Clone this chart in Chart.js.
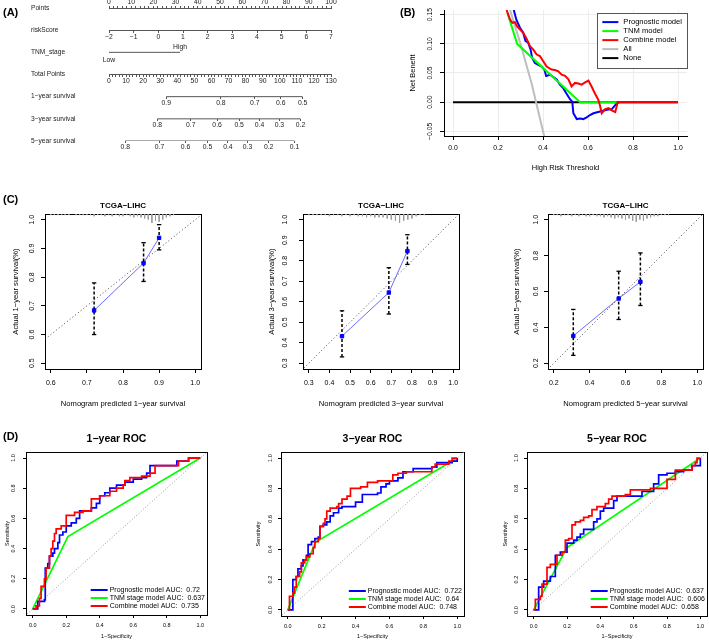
<!DOCTYPE html>
<html>
<head>
<meta charset="utf-8">
<title>Nomogram, decision curve, calibration and ROC</title>
<script src="https://cdn.jsdelivr.net/npm/chart.js@4.4.1/dist/chart.umd.min.js"></script>
<style>
  body { margin: 0; background: #fff; font-family: "Liberation Sans", Arial, sans-serif; }
  #page { position: relative; width: 709px; height: 640px; overflow: hidden; }
  #page canvas { position: absolute; }
  .tag { position: absolute; font-size: 11px; font-weight: bold; line-height: 12px; }
</style>
</head>
<body>
<div id="page">
  <canvas id="nomo" width="355" height="160" style="left:0;top:0"></canvas>
  <canvas id="dca" width="349" height="185" style="left:360px;top:0"></canvas>
  <canvas id="cal1" width="230" height="212" style="left:0;top:200px"></canvas>
  <canvas id="cal3" width="220" height="212" style="left:250px;top:200px"></canvas>
  <canvas id="cal5" width="229" height="212" style="left:480px;top:200px"></canvas>
  <canvas id="roc1" width="232" height="215" style="left:0;top:425px"></canvas>
  <canvas id="roc3" width="236" height="215" style="left:238px;top:425px"></canvas>
  <canvas id="roc5" width="231" height="215" style="left:478px;top:425px"></canvas>
  <div class="tag" style="left:3px;top:6px">(A)</div>
  <div class="tag" style="left:400px;top:6px">(B)</div>
  <div class="tag" style="left:3px;top:193px">(C)</div>
  <div class="tag" style="left:3px;top:430px">(D)</div>
</div>
<script>
// ---------- (A) nomogram ----------
const nomoRows = ['Points', 'riskScore', 'TNM_stage', 'Total Points', '1-year survival', '3-year survival', '5-year survival'];
const pointsTicks = [0, 10, 20, 30, 40, 50, 60, 70, 80, 90, 100];
const riskScoreTicks = [-2, -1, 0, 1, 2, 3, 4, 5, 6, 7];
const tnmLevels = ['Low', 'High'];
const tnmPoints = [0, 32];
const totalTicks = [0, 10, 20, 30, 40, 50, 60, 70, 80, 90, 100, 110, 120, 130];
const surv1Labels = ['0.9', '0.8', '0.7', '0.6', '0.5'];
const surv1Points = [33.5, 65.5, 85.4, 100.6, 113.4];
const surv3Labels = ['0.8', '0.7', '0.6', '0.5', '0.4', '0.3', '0.2'];
const surv3Points = [28.3, 47.9, 63.3, 76.2, 88.1, 99.8, 112.1];
const surv5Labels = ['0.8', '0.7', '0.6', '0.5', '0.4', '0.3', '0.2', '0.1'];
const surv5Points = [9.5, 29.6, 44.8, 57.7, 69.6, 81.1, 93.5, 108.6];

// ---------- (B) decision curves ----------
const dcaThresholdTicks = [0, 0.2, 0.4, 0.6, 0.8, 1.0];
const dcaBenefitTicks = [-0.05, 0, 0.05, 0.10, 0.15];
const dcaPrognostic = [[0.270, 0.158], [0.282, 0.141], [0.297, 0.128], [0.312, 0.119], [0.322, 0.105], [0.334, 0.102],
  [0.345, 0.090], [0.352, 0.076], [0.364, 0.067], [0.379, 0.064], [0.394, 0.061], [0.406, 0.056], [0.414, 0.045],
  [0.431, 0.047], [0.446, 0.043], [0.461, 0.039], [0.475, 0.030], [0.490, 0.024], [0.502, 0.016], [0.520, 0.005],
  [0.530, 0.001], [0.535, -0.019], [0.550, -0.029], [0.565, -0.028], [0.579, -0.029], [0.594, -0.026], [0.609, -0.022],
  [0.624, -0.019], [0.654, -0.016], [0.684, -0.013], [0.706, -0.012], [0.721, -0.005], [0.728, -0.002]];
const dcaTNM = [[0.242, 0.153], [0.285, 0.100], [0.565, 0], [0.728, 0]];
const dcaCombine = [[0.238, 0.158], [0.253, 0.142], [0.264, 0.136], [0.275, 0.137], [0.285, 0.130], [0.297, 0.125],
  [0.312, 0.119], [0.327, 0.109], [0.342, 0.096], [0.357, 0.090], [0.371, 0.082], [0.386, 0.079], [0.401, 0.070],
  [0.416, 0.061], [0.438, 0.056], [0.453, 0.055], [0.468, 0.053], [0.483, 0.047], [0.498, 0.045], [0.513, 0.039],
  [0.527, 0.027], [0.542, 0.033], [0.557, 0.032], [0.572, 0.030], [0.587, 0.034], [0.602, 0.037], [0.617, 0.026],
  [0.632, 0.014], [0.646, 0.004], [0.654, -0.007], [0.661, -0.019], [0.676, -0.012], [0.691, -0.010], [0.706, -0.014],
  [0.721, -0.017], [0.731, -0.002], [0.743, 0], [1.0, 0]];
const dcaAll = [[0.24, 0.175], [0.30, 0.100], [0.35, 0.031], [0.40, -0.050], [0.42, -0.082]];
const dcaNone = [[0, 0], [1, 0]];

// ---------- (C) calibration ----------
const cal1Pred = [0.720, 0.857, 0.900];
const cal1Obs = [0.684, 0.849, 0.937];
const cal1Lo = [0.600, 0.785, 0.895];
const cal1Hi = [0.780, 0.920, 0.983];
const cal1Rug = [1, 1, 1, 1, 1, 1, 0, 1, 1, 1, 1, 1, 2, 1, 1, 2, 1, 2, 1, 2, 2, 1, 2, 3, 2, 3, 4, 5, 8, 6, 7, 5, 3, 2, 1];
const cal3Pred = [0.461, 0.688, 0.778];
const cal3Obs = [0.432, 0.645, 0.847];
const cal3Lo = [0.331, 0.540, 0.782];
const cal3Hi = [0.556, 0.766, 0.927];
const cal3Rug = [1, 1, 1, 1, 1, 2, 1, 1, 2, 1, 2, 1, 2, 2, 3, 2, 3, 3, 3, 4, 5, 6, 8, 6, 5, 4, 2, 1, 1];
const cal5Pred = [0.309, 0.562, 0.683];
const cal5Obs = [0.352, 0.561, 0.654];
const cal5Lo = [0.244, 0.444, 0.522];
const cal5Hi = [0.500, 0.713, 0.815];
const cal5Rug = [1, 1, 2, 1, 1, 2, 1, 2, 1, 2, 2, 1, 2, 2, 3, 2, 3, 4, 3, 4, 5, 4, 6, 7, 5, 6, 4, 3, 2, 2, 1, 1, 1];

// ---------- (D) ROC ----------
const rocTicks = [0, 0.2, 0.4, 0.6, 0.8, 1.0];
const rocNames = ['Prognostic model', 'TNM stage model', 'Combine model'];
const auc1 = [0.72, 0.637, 0.735];
const auc3 = [0.722, 0.64, 0.748];
const auc5 = [0.637, 0.606, 0.658];
const roc1Prog = [[0, 0], [0.03, 0], [0.03, 0.05], [0.07, 0.06], [0.075, 0.27], [0.09, 0.30], [0.10, 0.35], [0.12, 0.37],
  [0.13, 0.40], [0.15, 0.44], [0.16, 0.49], [0.18, 0.51], [0.20, 0.55], [0.23, 0.57], [0.26, 0.60], [0.28, 0.65],
  [0.32, 0.65], [0.35, 0.67], [0.38, 0.70], [0.40, 0.75], [0.43, 0.77], [0.46, 0.80], [0.50, 0.82], [0.55, 0.84],
  [0.60, 0.86], [0.65, 0.87], [0.68, 0.90], [0.70, 0.95], [0.74, 0.95], [0.86, 0.98], [0.93, 1.0], [1, 1]];
const roc1TNM = [[0, 0], [0.21, 0.48], [1, 1]];
const roc1Comb = [[0, 0], [0.02, 0.02], [0.04, 0.07], [0.05, 0.15], [0.07, 0.20], [0.08, 0.27], [0.10, 0.35], [0.11, 0.40],
  [0.12, 0.45], [0.13, 0.50], [0.14, 0.53], [0.17, 0.55], [0.20, 0.55], [0.20, 0.62], [0.24, 0.62], [0.25, 0.64],
  [0.30, 0.65], [0.33, 0.65], [0.35, 0.73], [0.39, 0.73], [0.40, 0.75], [0.44, 0.75], [0.46, 0.78], [0.50, 0.80],
  [0.54, 0.82], [0.55, 0.85], [0.58, 0.87], [0.64, 0.87], [0.65, 0.88], [0.69, 0.88], [0.70, 0.90], [0.72, 0.90],
  [0.73, 0.95], [0.86, 0.95], [0.87, 0.98], [0.92, 0.98], [0.93, 1.0], [1, 1]];
const roc3Prog = [[0, 0], [0.03, 0], [0.03, 0.20], [0.05, 0.22], [0.06, 0.27], [0.08, 0.29], [0.09, 0.33], [0.11, 0.36],
  [0.12, 0.43], [0.14, 0.45], [0.16, 0.47], [0.18, 0.48], [0.19, 0.55], [0.21, 0.56], [0.23, 0.58], [0.25, 0.62],
  [0.27, 0.64], [0.30, 0.67], [0.32, 0.68], [0.37, 0.68], [0.40, 0.71], [0.43, 0.71], [0.44, 0.76], [0.53, 0.77],
  [0.55, 0.81], [0.58, 0.83], [0.60, 0.85], [0.64, 0.85], [0.65, 0.87], [0.68, 0.91], [0.74, 0.93], [0.85, 0.94],
  [0.88, 0.97], [0.97, 0.98], [1, 1]];
const roc3TNM = [[0, 0], [0.163, 0.445], [1, 1]];
const roc3Comb = [[0, 0], [0.01, 0.09], [0.03, 0.11], [0.04, 0.15], [0.05, 0.22], [0.07, 0.25], [0.08, 0.31], [0.10, 0.33],
  [0.11, 0.35], [0.13, 0.37], [0.15, 0.41], [0.16, 0.45], [0.18, 0.47], [0.19, 0.55], [0.21, 0.57], [0.22, 0.60],
  [0.23, 0.65], [0.25, 0.67], [0.29, 0.68], [0.30, 0.70], [0.32, 0.73], [0.35, 0.75], [0.37, 0.80], [0.43, 0.81],
  [0.47, 0.84], [0.53, 0.85], [0.60, 0.85], [0.62, 0.89], [0.65, 0.90], [0.70, 0.91], [0.85, 0.94], [0.87, 0.96],
  [0.95, 0.98], [0.97, 1.0], [1, 1]];
const roc5Prog = [[0, 0], [0.02, 0], [0.03, 0.15], [0.05, 0.15], [0.06, 0.19], [0.09, 0.19], [0.10, 0.22], [0.12, 0.22],
  [0.13, 0.36], [0.15, 0.36], [0.16, 0.38], [0.19, 0.38], [0.20, 0.44], [0.24, 0.46], [0.26, 0.48], [0.28, 0.50],
  [0.30, 0.53], [0.35, 0.53], [0.36, 0.58], [0.38, 0.60], [0.40, 0.65], [0.42, 0.67], [0.47, 0.67], [0.48, 0.72],
  [0.50, 0.75], [0.63, 0.75], [0.65, 0.78], [0.70, 0.78], [0.72, 0.83], [0.74, 0.83], [0.75, 0.89], [0.80, 0.90],
  [0.85, 0.91], [0.90, 0.92], [0.95, 0.95], [1, 1]];
const roc5TNM = [[0, 0], [0.20, 0.41], [1, 1]];
const roc5Comb = [[0, 0], [0.01, 0.07], [0.04, 0.09], [0.05, 0.17], [0.07, 0.17], [0.08, 0.28], [0.10, 0.30], [0.13, 0.30],
  [0.14, 0.36], [0.17, 0.38], [0.19, 0.46], [0.21, 0.47], [0.23, 0.56], [0.25, 0.58], [0.28, 0.59], [0.30, 0.61],
  [0.33, 0.62], [0.35, 0.66], [0.38, 0.68], [0.43, 0.70], [0.45, 0.73], [0.47, 0.75], [0.55, 0.76], [0.58, 0.79],
  [0.70, 0.80], [0.78, 0.80], [0.80, 0.86], [0.85, 0.92], [0.90, 0.92], [0.95, 0.95], [0.97, 0.97], [0.98, 1.0], [1, 1]];

// ---------- setup ----------
const FONT = '"Liberation Sans", Arial, sans-serif';
Chart.defaults.font.family = FONT;
Chart.defaults.color = '#000';
Chart.defaults.animation = false;
Chart.defaults.events = [];
Chart.defaults.plugins.legend.display = false;
Chart.defaults.plugins.tooltip.enabled = false;

// R draws hyphens as minus signs
const M = s => String(s).replace(/-/g, '\u2212');
const xy = arr => arr.map(([x, y]) => ({ x, y }));
const every = (lo, hi, step) => {
  const t = [];
  for (let v = lo; v <= hi + 1e-9; v += step) t.push({ value: Math.round(v * 100) / 100 });
  return t;
};

function line(data, color, width, extra) {
  return Object.assign({ data: xy(data), showLine: true, borderColor: color, borderWidth: width,
    pointRadius: 0, xAxisID: 'x', yAxisID: 'y' }, extra || {});
}

// bottom axis, R look
function axisX(min, max, ticks, o) {
  return {
    type: 'linear', position: 'bottom', min, max, offset: false,
    afterBuildTicks: s => { s.ticks = ticks.map(value => ({ value })); },
    afterFit: s => { s.height = o.size; },
    ticks: { autoSkip: false, maxRotation: 0, padding: o.pad, font: { size: o.font }, callback: v => M(v.toFixed(o.dec)) },
    grid: { drawOnChartArea: !!o.grid, color: o.grid || '#000', tickColor: '#000', tickLength: o.tl, offset: false },
    border: { color: '#000' },
    title: { display: true, text: M(o.title), font: { size: o.tfont }, padding: { top: 0, bottom: o.tpad } }
  };
}
// left axis with labels turned parallel to it
function axisY(min, max, ticks, o) {
  return {
    type: 'linear', position: 'left', min, max,
    afterBuildTicks: s => { s.ticks = ticks.map(value => ({ value })); },
    afterFit: s => { s.width = o.size; },
    ticks: { autoSkip: false, minRotation: 90, maxRotation: 90, crossAlign: 'center', padding: o.pad,
      font: { size: o.font }, callback: v => M(v.toFixed(o.dec)) },
    grid: { drawOnChartArea: !!o.grid, color: o.grid || '#000', tickColor: '#000', tickLength: o.tl },
    border: { color: '#000' },
    title: { display: true, text: M(o.title), font: { size: o.tfont }, padding: { top: o.tpad, bottom: 0 } }
  };
}
const frameTop = { type: 'linear', position: 'top', min: 0, max: 1, ticks: { display: false },
  grid: { display: false, drawTicks: false }, border: { color: '#000' }, afterFit: s => { s.height = 0; } };
const frameRight = { type: 'linear', position: 'right', min: 0, max: 1, ticks: { display: false },
  grid: { display: false, drawTicks: false }, border: { color: '#000' }, afterFit: s => { s.width = 0; } };

// legend drawn inside the plot region, R style
function rLegend(o) {
  return {
    id: 'rLegend',
    afterDatasetsDraw(chart) {
      const { ctx, chartArea: a } = chart;
      const items = chart.data.datasets.filter(d => d.label);
      ctx.save();
      ctx.font = o.size + 'px ' + FONT;
      const tw = Math.max(...items.map(d => ctx.measureText(d.label).width));
      const w = o.pad * 2 + o.line + o.gap + tw;
      const h = o.pad * 2 + items.length * o.row;
      const x0 = a.right - o.right - w;
      const y0 = o.bottom != null ? a.bottom - o.bottom - h : a.top + o.top;
      if (o.box) {
        ctx.fillStyle = '#fff';
        ctx.fillRect(x0, y0, w, h);
        ctx.strokeStyle = '#555';
        ctx.lineWidth = 1;
        ctx.strokeRect(Math.round(x0) + 0.5, Math.round(y0) + 0.5, Math.round(w), Math.round(h));
      }
      items.forEach((d, i) => {
        const y = y0 + o.pad + o.row * (i + 0.5);
        ctx.strokeStyle = d.borderColor;
        ctx.lineWidth = o.lw;
        ctx.setLineDash([]);
        ctx.beginPath();
        ctx.moveTo(x0 + o.pad, y);
        ctx.lineTo(x0 + o.pad + o.line, y);
        ctx.stroke();
        ctx.fillStyle = '#000';
        ctx.textBaseline = 'middle';
        ctx.textAlign = 'left';
        ctx.fillText(d.label, x0 + o.pad + o.line + o.gap, y);
      });
      ctx.restore();
    }
  };
}

// ---------- (A) ----------
const nomoFont = { size: 6.8 };
function nomoAxis(row, min, max, ticks, label, extra) {
  return Object.assign({
    type: 'linear', axis: 'x', position: { y: row }, min, max,
    afterBuildTicks: s => { s.ticks = ticks.map(t => ({ value: t.value })); },
    ticks: { autoSkip: false, maxRotation: 0, padding: 0.5, font: nomoFont, color: '#222', callback: label },
    grid: { drawOnChartArea: false, tickLength: 2, tickColor: '#555' },
    border: { color: '#555' }
  }, extra || {});
}
const labelAt = list => v => (list.includes(v) ? M(v) : '');
const asTicks = arr => arr.map(value => ({ value }));
const segment = (axisId, pts, row) => ({
  data: [{ x: pts[0], y: row }, { x: pts[pts.length - 1], y: row }],
  xAxisID: axisId, yAxisID: 'y', showLine: true, borderColor: '#555', borderWidth: 1, pointRadius: 0
});

new Chart(document.getElementById('nomo'), {
  type: 'scatter',
  data: {
    datasets: [
      segment('x', tnmPoints, 2),
      segment('xS1', surv1Points, 4),
      segment('xS3', surv3Points, 5),
      segment('xS5', surv5Points, 6)
    ]
  },
  options: {
    responsive: false,
    layout: { padding: { left: 31, right: 24, top: 0, bottom: 19 } },
    scales: {
      x: {
        type: 'linear', position: 'top', min: pointsTicks[0], max: pointsTicks[pointsTicks.length - 1],
        afterBuildTicks: s => { s.ticks = every(0, 100, 2); },
        afterFit: s => { s.height = 8; },
        ticks: { autoSkip: false, maxRotation: 0, padding: 0, font: nomoFont, color: '#222', callback: labelAt(pointsTicks) },
        grid: { drawOnChartArea: false, tickLength: 2, tickColor: '#555' },
        border: { color: '#555' }
      },
      y: {
        type: 'linear', position: 'left', min: 0, max: nomoRows.length - 1, reverse: true,
        afterBuildTicks: s => { s.ticks = nomoRows.map((_, i) => ({ value: i })); },
        afterFit: s => { s.width = 78; },
        ticks: { crossAlign: 'far', font: { size: 6.6 }, color: '#222', callback: v => M(nomoRows[v]) },
        grid: { display: false, drawTicks: false },
        border: { display: false }
      },
      xRisk: nomoAxis(1, riskScoreTicks[0], riskScoreTicks[riskScoreTicks.length - 1], asTicks(riskScoreTicks), v => M(v)),
      xTnmLow: nomoAxis(2, 0, 100, asTicks([tnmPoints[0]]), () => tnmLevels[0],
        { grid: { display: false, drawTicks: false }, border: { display: false } }),
      xTnmHigh: nomoAxis(2, 0, 100, asTicks([tnmPoints[1]]), () => tnmLevels[1],
        { grid: { display: false, drawTicks: false }, border: { display: false } }),
      xTotal: nomoAxis(3, totalTicks[0], totalTicks[totalTicks.length - 1], every(0, 130, 2), labelAt(totalTicks)),
      xS1: nomoAxis(4, 0, 130, asTicks(surv1Points), (v, i) => surv1Labels[i], { border: { display: false } }),
      xS3: nomoAxis(5, 0, 130, asTicks(surv3Points), (v, i) => surv3Labels[i], { border: { display: false } }),
      xS5: nomoAxis(6, 0, 130, asTicks(surv5Points), (v, i) => surv5Labels[i], { border: { display: false } })
    }
  }
});
// label sides for the two TNM levels
const nomoChart = Chart.getChart('nomo');
nomoChart.options.scales.xTnmLow.ticks.padding = 3.6;
nomoChart.options.scales.xTnmHigh.ticks.padding = -9.7;
nomoChart.update();

// ---------- (B) ----------
new Chart(document.getElementById('dca'), {
  type: 'scatter',
  data: {
    datasets: [
      line(dcaPrognostic, '#0000ff', 2, { label: 'Prognostic model', order: 3 }),
      line(dcaTNM, '#00ff00', 2, { label: 'TNM model', order: 2 }),
      line(dcaCombine, '#ff0000', 2, { label: 'Combine model', order: 1 }),
      line(dcaAll, '#bebebe', 2, { label: 'All', order: 4 }),
      line(dcaNone, '#000000', 2, { label: 'None', order: 5 })
    ]
  },
  options: {
    responsive: false,
    layout: { padding: { left: 40, right: 22, top: 10, bottom: 0 } },
    scales: {
      x: axisX(-0.04, 1.04, dcaThresholdTicks, { size: 49, pad: 3.8, font: 6.8, dec: 1, tl: 4, grid: '#ececec',
        title: 'High Risk Threshold', tfont: 7.5, tpad: 12.5 }),
      y: axisY(-0.058, 0.158, dcaBenefitTicks, { size: 44, pad: 1, font: 6.8, dec: 2, tl: 4, grid: '#ececec',
        title: 'Net Benefit', tfont: 7.5, tpad: 8.5 })
    }
  },
  plugins: [rLegend({ size: 7.6, row: 9, pad: 5, line: 16, gap: 5, lw: 2, box: true, right: 0, top: 2.6 })]
});

// ---------- (C) ----------
function calibration(id, c) {
  const rug = [];
  c.rug.forEach((n, i) => {
    const x = +(c.rugStart + i * c.rugStep).toFixed(3);
    rug.push({ x, y: 0 }, { x, y: n }, { x, y: null });
  });
  const bars = [];
  c.pred.forEach((x, i) => { bars.push({ x, y: c.lo[i] }, { x, y: c.hi[i] }, { x, y: null }); });
  const canvas = document.getElementById(id);
  const A = c.area;
  new Chart(canvas, {
    type: 'scatter',
    data: {
      datasets: [
        { data: rug, xAxisID: 'x', yAxisID: 'yr', showLine: true, borderColor: '#9c9c9c', borderWidth: 1, pointRadius: 0, order: 4 },
        { data: [{ x: 0, y: 0 }, { x: 1.1, y: 1.1 }], xAxisID: 'x', yAxisID: 'y', showLine: true, borderColor: '#444',
          borderWidth: 1, borderDash: [1, 2.5], pointRadius: 0, order: 3 },
        { data: bars, xAxisID: 'x', yAxisID: 'y', showLine: true, borderColor: '#000', borderWidth: 1.5, borderDash: [3, 2],
          pointStyle: 'line', pointRadius: 2.2, pointBorderWidth: 1.3, pointBorderColor: '#000', order: 2 },
        { data: c.pred.map((x, i) => ({ x, y: c.obs[i] })), xAxisID: 'x', yAxisID: 'y', showLine: true,
          borderColor: 'rgba(70,70,255,0.8)', borderWidth: 1, pointStyle: 'rect', pointRadius: 2.4,
          pointBackgroundColor: '#0000ff', pointBorderColor: '#0000ff', order: 1 }
      ]
    },
    options: {
      responsive: false,
      layout: { padding: { left: 0, right: canvas.width - A.r, top: 0, bottom: 0 } },
      plugins: {
        title: { display: true, text: M('TCGA-LIHC'), fullSize: false, color: '#000',
          font: { size: 8, weight: 'bold', lineHeight: 1 }, padding: { top: 2, bottom: A.t - 10 } }
      },
      scales: {
        x: axisX(c.xr[0], c.xr[1], c.xt, { size: canvas.height - A.b, pad: 5.8, font: 7, dec: 1, tl: 4,
          title: c.xtitle, tfont: 7.6, tpad: 3.4 }),
        y: axisY(c.yr[0], c.yr[1], c.yt, { size: A.l, pad: c.ytickPad, font: 7, dec: 1, tl: 4,
          title: c.ytitle, tfont: 7.6, tpad: c.ytitlePad }),
        x2: frameTop,
        y2: frameRight,
        yr: { type: 'linear', display: false, reverse: true, min: 0, max: 140 }
      }
    }
  });
}

calibration('cal1', {
  pred: cal1Pred, obs: cal1Obs, lo: cal1Lo, hi: cal1Hi, rug: cal1Rug, rugStart: 0.60, rugStep: 0.01,
  area: { l: 45, r: 201, t: 14, b: 169 },
  xr: [0.584, 1.016], xt: [0.6, 0.7, 0.8, 0.9, 1.0], yr: [0.48, 1.02], yt: [0.5, 0.6, 0.7, 0.8, 0.9, 1.0],
  xtitle: 'Nomogram predicted 1-year survival', ytitle: 'Actual 1-year survival(%)', ytitlePad: 11.4, ytickPad: 4.1
});
calibration('cal3', {
  pred: cal3Pred, obs: cal3Obs, lo: cal3Lo, hi: cal3Hi, rug: cal3Rug, rugStart: 0.30, rugStep: 0.02,
  area: { l: 53, r: 209, t: 14, b: 169 },
  xr: [0.272, 1.028], xt: [0.3, 0.4, 0.5, 0.6, 0.7, 0.8, 0.9, 1.0], yr: [0.272, 1.028], yt: [0.3, 0.4, 0.5, 0.6, 0.7, 0.8, 0.9, 1.0],
  xtitle: 'Nomogram predicted 3-year survival', ytitle: 'Actual 3-year survival(%)', ytitlePad: 17.4, ytickPad: 9
});
calibration('cal5', {
  pred: cal5Pred, obs: cal5Obs, lo: cal5Lo, hi: cal5Hi, rug: cal5Rug, rugStart: 0.20, rugStep: 0.02,
  area: { l: 68, r: 223, t: 14, b: 169 },
  xr: [0.168, 1.032], xt: [0.2, 0.4, 0.6, 0.8, 1.0], yr: [0.168, 1.032], yt: [0.2, 0.4, 0.6, 0.8, 1.0],
  xtitle: 'Nomogram predicted 5-year survival', ytitle: 'Actual 5-year survival(%)', ytitlePad: 32.4, ytickPad: 3.1
});

// ---------- (D) ----------
function rocChart(id, r) {
  const canvas = document.getElementById(id);
  const A = r.area;
  new Chart(canvas, {
    type: 'scatter',
    data: {
      datasets: [
        line(r.prog, '#0000ff', 1.7, { label: rocNames[0] + ' AUC:  ' + r.auc[0], stepped: 'before', order: 2 }),
        line(r.tnm, '#00ff00', 1.7, { label: rocNames[1] + ' AUC:  ' + r.auc[1], order: 3 }),
        line(r.comb, '#ff0000', 1.7, { label: rocNames[2] + ' AUC:  ' + r.auc[2], stepped: 'before', order: 1 }),
        line([[-0.1, -0.1], [1.1, 1.1]], '#999', 1, { borderDash: [1, 2], order: 4 })
      ]
    },
    options: {
      responsive: false,
      layout: { padding: { left: 0, right: canvas.width - A.r, top: 0, bottom: 0 } },
      plugins: {
        title: { display: true, text: M(r.title), fullSize: false, color: '#000',
          font: { size: 10.5, weight: 'bold', lineHeight: 1 }, padding: { top: 8.75, bottom: A.t - 19.25 } }
      },
      scales: {
        x: axisX(-0.04, 1.04, rocTicks, { size: canvas.height - A.b, pad: 3.7, font: 5.5, dec: 1, tl: 3,
          title: '1-Specificity', tfont: 5.5, tpad: 0 }),
        y: axisY(-0.04, 1.04, rocTicks, { size: A.l, pad: r.ytickPad, font: 5.5, dec: 1, tl: 3,
          title: 'Sensitivity', tfont: 5.5, tpad: r.ytitlePad }),
        x2: frameTop,
        y2: frameRight
      }
    },
    plugins: [rLegend({ size: 7, row: 8, pad: 0, line: 17, gap: 2, lw: 2, box: false, right: 2, bottom: 5 })]
  });
}

rocChart('roc1', { title: '1-year ROC', prog: roc1Prog, tnm: roc1TNM, comb: roc1Comb, auc: auc1,
  area: { l: 26, r: 207, t: 27, b: 190 }, ytitlePad: 3.7, ytickPad: 5.5 });
rocChart('roc3', { title: '3-year ROC', prog: roc3Prog, tnm: roc3TNM, comb: roc3Comb, auc: auc3,
  area: { l: 43, r: 226, t: 27, b: 191 }, ytitlePad: 16.7, ytickPad: 3.2 });
rocChart('roc5', { title: '5-year ROC', prog: roc5Prog, tnm: roc5TNM, comb: roc5Comb, auc: auc5,
  area: { l: 49, r: 229, t: 27, b: 191 }, ytitlePad: 23.7, ytickPad: 3.2 });
</script>
</body>
</html>
